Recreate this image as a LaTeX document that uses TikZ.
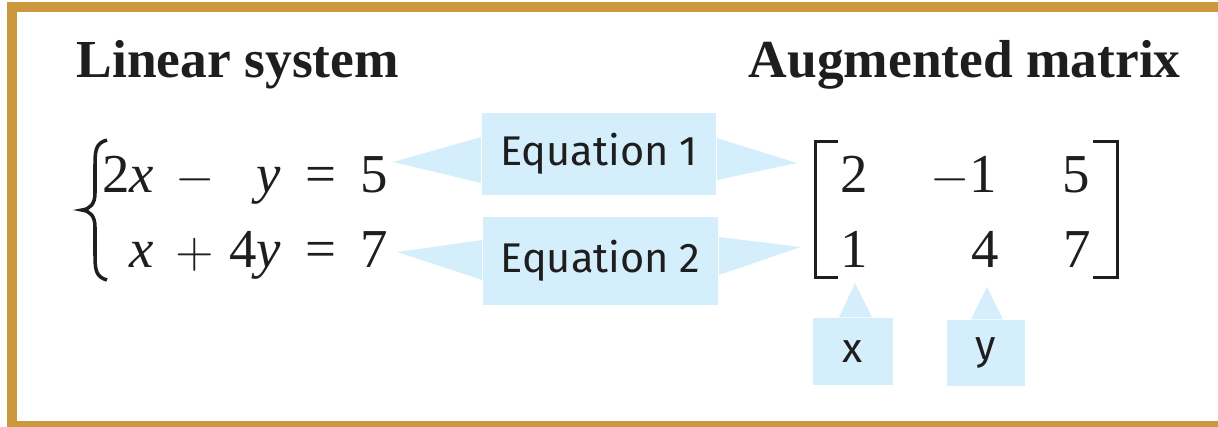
\documentclass[tikz,border=0pt]{standalone}
\usepackage{fontspec}
\setmainfont{Liberation Serif}
\newfontfamily\handfont{Fira Sans}
\usepackage{tikz}
\usetikzlibrary{positioning,calc}
\usepackage{xcolor}
\definecolor{framegold}{RGB}{203,152,62}
\definecolor{calloutblue}{RGB}{212,238,251}
\definecolor{inkblack}{RGB}{30,30,30}

\begin{document}
\begin{tikzpicture}[
    x=0.01cm, y=-0.01cm,
    title/.style={anchor=base west, inner sep=0, font=\fontsize{15.2}{18}\selectfont\bfseries, text=inkblack},
    term/.style={inner sep=0, font=\fontsize{15.6}{18}\selectfont, text=inkblack},
    callout/.style={rectangle, fill=calloutblue, inner sep=0, font=\handfont\fontsize{11.8}{14}\selectfont, text=inkblack},
    pointer/.style={fill=calloutblue},
    bracket/.style={draw=inkblack, line width=0.85pt},
    frame/.style={draw=framegold, line width=2.85pt}
]
\useasboundingbox (0,0) rectangle (1218,426);
\clip (0,0) rectangle (1218,426);

% Frame
\draw[frame] (12,6.7) rectangle (1240,425.5);

% Titles
\node[title] (systitle) at (76,77) {Linear system};
\node[title] (mattitle) at (748,77) {Augmented matrix};

% Linear system
\node[term, anchor=base east] (s11) at (155,192) {2\textit{x}};
\node[term, anchor=base] (s12) at (195,192) {$-$};
\node[term, anchor=base east] (s13) at (282,192) {\textit{y}};
\node[term, anchor=base] (s14) at (321,192) {=};
\node[term, anchor=base west] (s15) at (360,192) {5};
\node[term, anchor=base east] (s21) at (155,267) {\textit{x}};
\node[term, anchor=base] (s22) at (195,267) {$+$};
\node[term, anchor=base east] (s23) at (282,267) {4\textit{y}};
\node[term, anchor=base] (s24) at (321,267) {=};
\node[term, anchor=base west] (s25) at (360,267) {7};
\draw[bracket, line width=1pt] (107,140) .. controls (96,143) and (95,150) .. (95,165) -- (95,193)
  .. controls (95,204) and (90,209) .. (82,210) .. controls (90,211) and (95,216) .. (95,227)
  -- (95,255) .. controls (95,270) and (96,277) .. (107,280);

% Augmented matrix
\node[term, anchor=base west] (m11) at (840,192) {2};
\node[term, anchor=base east] (m12) at (998,192) {$-$1};
\node[term, anchor=base east] (m13) at (1091,192) {5};
\node[term, anchor=base west] (m21) at (840,267) {1};
\node[term, anchor=base east] (m22) at (1000,267) {4};
\node[term, anchor=base east] (m23) at (1092,267) {7};
\draw[bracket] (838,141) -- (815,141) -- (815,277) -- (838,277);
\draw[bracket] (1093,141) -- (1117,141) -- (1117,277) -- (1093,277);

% Callouts
\node[callout, minimum width=2.34cm, minimum height=0.82cm] (eqone) at (599,154) {Equation 1};
\node[callout, minimum width=2.35cm, minimum height=0.88cm] (eqtwo) at (600.5,261) {Equation 2};
\node[callout, minimum width=0.80cm, minimum height=0.67cm] (xlabel) at (853,351.5) {x};
\node[callout, minimum width=0.78cm, minimum height=0.66cm] (ylabel) at (986,353) {y};

\coordinate (eqonel) at (393,162);
\coordinate (eqoner) at (797,163);
\coordinate (eqtwol) at (397,252);
\coordinate (eqtwor) at (801,247);
\coordinate (xtip) at (855,283);
\coordinate (ytip) at (987,287);

\fill[pointer] ($(eqone.west)+(0,-17)$) -- (eqonel) -- ($(eqone.west)+(0,29)$) -- cycle;
\fill[pointer] ($(eqone.east)+(0,-16)$) -- (eqoner) -- ($(eqone.east)+(0,26)$) -- cycle;
\fill[pointer] ($(eqtwo.west)+(0,-21)$) -- (eqtwol) -- ($(eqtwo.west)+(0,19)$) -- cycle;
\fill[pointer] ($(eqtwo.east)+(0,-24)$) -- (eqtwor) -- ($(eqtwo.east)+(0,14)$) -- cycle;
\fill[pointer] ($(xlabel.north)+(-14,0)$) -- (xtip) -- ($(xlabel.north)+(19,0)$) -- cycle;
\fill[pointer] ($(ylabel.north)+(-15,0)$) -- (ytip) -- ($(ylabel.north)+(17,0)$) -- cycle;

\end{tikzpicture}
\end{document}
